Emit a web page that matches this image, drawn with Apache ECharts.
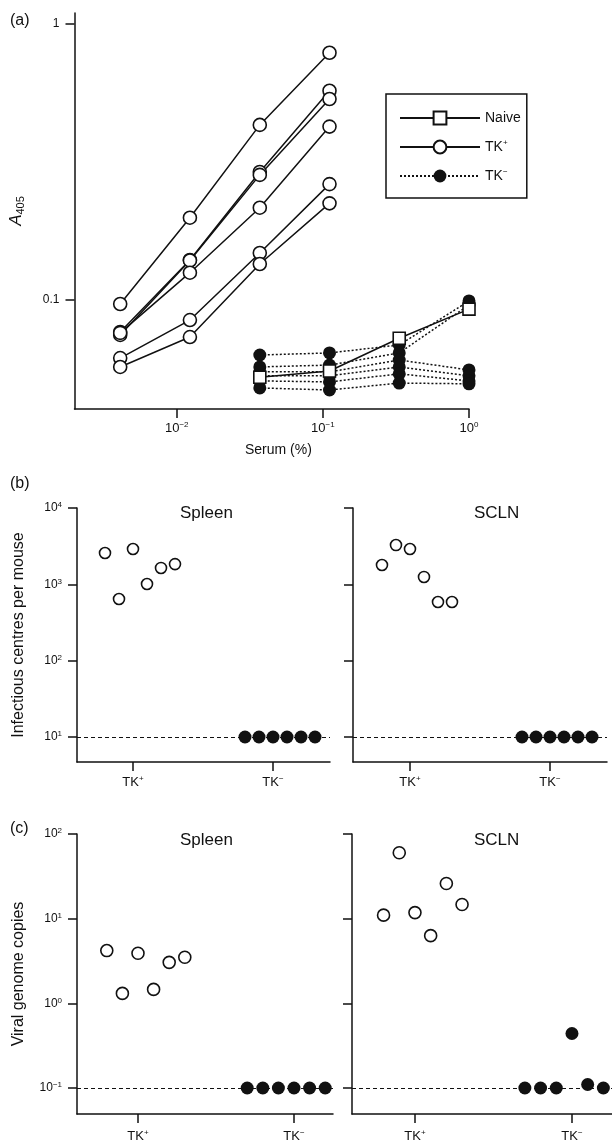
<!DOCTYPE html>
<html>
<head>
<meta charset="utf-8">
<script src="https://cdn.jsdelivr.net/npm/echarts@6/dist/echarts.min.js"></script>
<style>
  html, body { margin: 0; padding: 0; background: #fff; }
  #main { width: 612px; height: 1147px; }
</style>
</head>
<body>
<div id="main"></div>
<script>
// ---- data ----
// (a) serum dilution (%) and A405 readings
var serumPct = [0.0041, 0.0123, 0.037, 0.111, 0.333, 1];
// TK+ mice: measured at the first four dilutions
var tkPosA = [
    [0.0967, 0.1987, 0.431, 0.787],
    [0.0766, 0.1396, 0.291, 0.573],
    [0.0747, 0.1390, 0.284, 0.535],
    [0.0760, 0.1256, 0.216, 0.425],
    [0.0616, 0.0846, 0.148, 0.263],
    [0.0572, 0.0734, 0.135, 0.224]
];
// TK- mice and naive: measured at the last four dilutions
var tkNegA = [
    [0.0632, 0.0643, 0.0687, 0.0992],
    [0.0572, 0.0581, 0.0643, 0.0959],
    [0.0549, 0.0549, 0.0606, 0.0558],
    [0.0531, 0.0531, 0.0572, 0.0531],
    [0.0509, 0.0505, 0.0540, 0.0509],
    [0.0480, 0.0472, 0.0500, 0.0497]
];
var naiveA = [0.0525, 0.0553, 0.0727, 0.0927];

// (b) infectious centres per mouse
var spleenIcPos = [2570, 643, 2900, 1010, 1640, 1840];
var spleenIcNeg = [10, 10, 10, 10, 10, 10];
var sclnIcPos = [1790, 3270, 2900, 1250, 587, 587];
var sclnIcNeg = [10, 10, 10, 10, 10, 10];

// (c) viral genome copies
var spleenVgPos = [4.2, 1.31, 3.9, 1.46, 3.05, 3.5];
var spleenVgNeg = [0.1, 0.1, 0.1, 0.1, 0.1, 0.1];
var sclnVgPos = [11, 60, 11.8, 6.3, 26, 14.7];
var sclnVgNeg = [0.1, 0.1, 0.1, 0.44, 0.11, 0.1];

var groupLabels = ['TK{s|+}', 'TK{s|−}'];

// horizontal spread of the dots around each group
var spreadPos = [-0.2, -0.1, 0, 0.1, 0.2, 0.3];
var spreadNegB = [-0.2, -0.1, 0, 0.1, 0.2, 0.3];
var spreadNegC = [-0.3, -0.2, -0.1, 0, 0.1, 0.2];

var ink = '#111';
var font = "'Liberation Sans', Arial, sans-serif";
var L = Math.log10;

var supRich = {
    s: { fontSize: 8, lineHeight: 8, verticalAlign: 'top', color: ink, fontFamily: font }
};

function powLabel(v) {
    var e = Math.round(v);
    return '10{s|' + (e < 0 ? '−' + (-e) : e) + '}';
}

function axisBase(gridIndex) {
    return {
        type: 'value',
        gridIndex: gridIndex,
        splitLine: { show: false },
        axisLine: { show: true, onZero: false, lineStyle: { color: ink, width: 1.5 } },
        axisTick: { show: true, inside: false, length: 9, lineStyle: { color: ink, width: 1.5 } }
    };
}

function xAx(gridIndex, min, max, ticks, formatter, margin) {
    var a = axisBase(gridIndex);
    a.min = min;
    a.max = max;
    a.axisTick.customValues = ticks;
    a.axisLabel = {
        customValues: ticks, formatter: formatter, margin: margin,
        color: ink, fontSize: 13, fontFamily: font, lineHeight: 15, rich: supRich
    };
    return a;
}

function yAx(gridIndex, min, max, ticks, formatter, showLabel, margin) {
    var a = axisBase(gridIndex);
    a.min = min;
    a.max = max;
    a.axisTick.customValues = ticks;
    a.axisLabel = {
        show: showLabel, customValues: ticks, formatter: formatter, margin: margin,
        color: ink, fontSize: 12, fontFamily: font, lineHeight: 14, rich: supRich
    };
    return a;
}

function groupLabel(v) {
    return groupLabels[Math.round(v) - 1];
}

var myChart = echarts.init(document.getElementById('main'));

var series = [];

// (a) TK- lines first so the open symbols sit above them
tkNegA.forEach(function (row) {
    series.push({
        name: 'TK−', type: 'line', xAxisIndex: 0, yAxisIndex: 0,
        data: row.map(function (v, i) { return [L(serumPct[i + 2]), L(v)]; }),
        symbol: 'circle', symbolSize: 13,
        lineStyle: { color: ink, width: 1.5, type: [2, 2] },
        itemStyle: { color: ink, borderColor: ink, borderWidth: 0 },
        z: 2
    });
});
tkPosA.forEach(function (row) {
    series.push({
        name: 'TK+', type: 'line', xAxisIndex: 0, yAxisIndex: 0,
        data: row.map(function (v, i) { return [L(serumPct[i]), L(v)]; }),
        symbol: 'circle', symbolSize: 13,
        lineStyle: { color: ink, width: 1.5 },
        itemStyle: { color: '#fff', borderColor: ink, borderWidth: 1.6 },
        z: 3
    });
});
series.push({
    name: 'Naive', type: 'line', xAxisIndex: 0, yAxisIndex: 0,
    data: naiveA.map(function (v, i) { return [L(serumPct[i + 2]), L(v)]; }),
    symbol: 'rect', symbolSize: 12,
    lineStyle: { color: ink, width: 1.5 },
    itemStyle: { color: '#fff', borderColor: ink, borderWidth: 1.6 },
    z: 4
});

// (b) and (c) dot plots
function dots(axisIndex, values, group, spread, open, size, withLine, lineAt) {
    var s = {
        type: 'scatter', xAxisIndex: axisIndex, yAxisIndex: axisIndex,
        data: values.map(function (v, i) { return [group + spread[i], L(v)]; }),
        symbol: 'circle', symbolSize: size,
        itemStyle: open
            ? { color: '#fff', borderColor: ink, borderWidth: 1.6, opacity: 1 }
            : { color: ink, borderColor: ink, borderWidth: 0, opacity: 1 },
        z: 3
    };
    if (withLine) {
        s.markLine = {
            silent: true, symbol: 'none', label: { show: false },
            lineStyle: { color: ink, width: 1.2, type: [4, 3] },
            data: [{ yAxis: lineAt }],
            z: 1
        };
    }
    return s;
}

series.push(dots(1, spleenIcPos, 1, spreadPos, true, 11, false));
series.push(dots(1, spleenIcNeg, 2, spreadNegB, false, 13, true, 1));
series.push(dots(2, sclnIcPos, 1, spreadPos, true, 11, false));
series.push(dots(2, sclnIcNeg, 2, spreadNegB, false, 13, true, 1));
series.push(dots(3, spleenVgPos, 1, spreadPos, true, 12, false));
series.push(dots(3, spleenVgNeg, 2, spreadNegC, false, 13, true, -1));
series.push(dots(4, sclnVgPos, 1, spreadPos, true, 12, false));
series.push(dots(4, sclnVgNeg, 2, spreadNegC, false, 13, true, -1));

var yNameStyle = { color: ink, fontSize: 16, fontFamily: font };

var yAxes = [
    yAx(0, -1.395, 0.04, [-1, 0], function (v) { return v === 0 ? '1' : '0.1'; }, true, 15),
    yAx(1, 0.6725, 4, [1, 2, 3, 4], powLabel, true, 15),
    yAx(2, 0.6725, 4, [1, 2, 3, 4], powLabel, false, 15),
    yAx(3, -1.307, 2, [-1, 0, 1, 2], powLabel, true, 15),
    yAx(4, -1.307, 2, [-1, 0, 1, 2], powLabel, false, 15)
];
yAxes[0].name = '{i|A}{sub|405}';
yAxes[0].nameLocation = 'middle';
yAxes[0].nameGap = 48;
yAxes[0].nameRotate = 90;
yAxes[0].nameTextStyle = {
    color: ink, fontFamily: font,
    rich: {
        i: { fontStyle: 'italic', fontSize: 17, lineHeight: 20, fontFamily: font, color: ink },
        sub: { fontSize: 11, lineHeight: 20, verticalAlign: 'bottom', fontFamily: font, color: ink }
    }
};
yAxes[1].name = 'Infectious centres per mouse';
yAxes[1].nameLocation = 'middle';
yAxes[1].nameGap = 50;
yAxes[1].nameTextStyle = yNameStyle;
yAxes[3].name = 'Viral genome copies';
yAxes[3].nameLocation = 'middle';
yAxes[3].nameGap = 50;
yAxes[3].nameTextStyle = yNameStyle;

var option = {
    animation: false,
    backgroundColor: '#fff',
    textStyle: { fontFamily: font, color: ink },
    grid: [
        { left: 72, top: 13, width: 397, height: 396 },
        { left: 77, top: 508, width: 253, height: 254 },
        { left: 353, top: 508, width: 254, height: 254 },
        { left: 77, top: 834, width: 256, height: 280 },
        { left: 352, top: 834, width: 260, height: 280 }
    ],
    xAxis: [
        xAx(0, -2.70, 0, [-2, -1, 0], powLabel, 12),
        xAx(1, 0.6, 2.407, [1, 2], groupLabel, 13),
        xAx(2, 0.593, 2.407, [1, 2], groupLabel, 13),
        xAx(3, 0.609, 2.25, [1, 2], groupLabel, 15),
        xAx(4, 0.599, 2.255, [1, 2], groupLabel, 15)
    ],
    yAxis: yAxes,
    legend: {
        data: ['Naive', 'TK+', 'TK−'],
        orient: 'vertical',
        left: 386,
        top: 94,
        itemWidth: 80,
        itemHeight: 16,
        itemGap: 13,
        padding: [16, 6, 14, 13],
        borderColor: ink,
        borderWidth: 1.5,
        borderRadius: 0,
        selectedMode: false,
        formatter: function (name) {
            if (name === 'TK+') return 'TK{s|+}';
            if (name === 'TK−') return 'TK{s|−}';
            return name;
        },
        textStyle: {
            color: ink, fontSize: 14, fontFamily: font, lineHeight: 16,
            rich: { s: { fontSize: 8, lineHeight: 8, verticalAlign: 'top', color: ink, fontFamily: font } }
        }
    },
    graphic: [
        { type: 'text', left: 10, top: 13, style: { text: '(a)', font: '16px ' + font, fill: ink } },
        { type: 'text', left: 10, top: 476, style: { text: '(b)', font: '16px ' + font, fill: ink } },
        { type: 'text', left: 10, top: 821, style: { text: '(c)', font: '16px ' + font, fill: ink } },
        { type: 'text', left: 245, top: 443, style: { text: 'Serum (%)', font: '14px ' + font, fill: ink } },
        { type: 'text', left: 180, top: 505, style: { text: 'Spleen', font: '17px ' + font, fill: ink } },
        { type: 'text', left: 474, top: 505, style: { text: 'SCLN', font: '17px ' + font, fill: ink } },
        { type: 'text', left: 180, top: 832, style: { text: 'Spleen', font: '17px ' + font, fill: ink } },
        { type: 'text', left: 474, top: 832, style: { text: 'SCLN', font: '17px ' + font, fill: ink } }
    ],
    series: series
};

myChart.setOption(option);
</script>
</body>
</html>
